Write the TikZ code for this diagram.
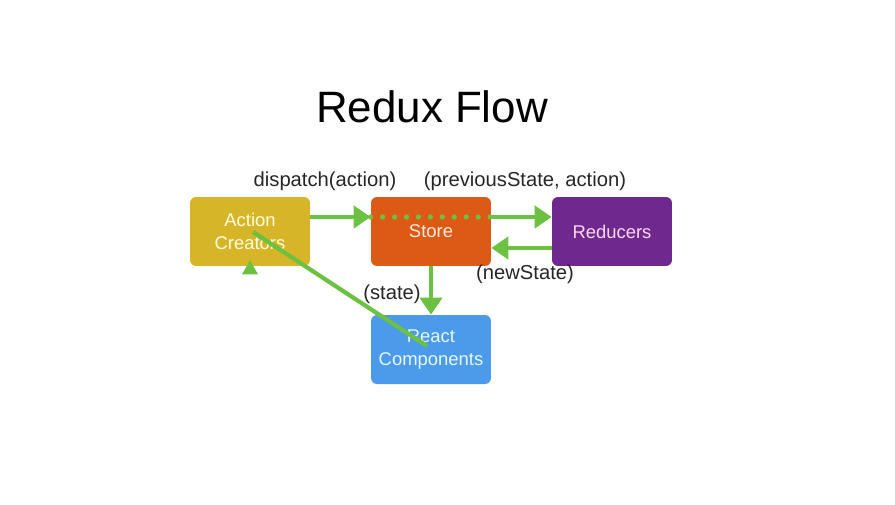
\documentclass[tikz,border=0pt]{standalone}
\usepackage{fontspec}
\setmainfont{Liberation Sans}
\usetikzlibrary{positioning, arrows.meta}

\begin{document}
\begin{tikzpicture}[x=0.02cm, y=-0.02cm,
  flowbox/.style={rounded corners=0.12cm, minimum width=2.4cm, minimum height=1.38cm,
    align=center, font=\fontsize{10.5}{13}\selectfont, inner sep=0pt},
  flowarrow/.style={draw=flowgreen, line width=2.8pt, -{Triangle[length=0.34cm, width=0.44cm]}},
  flowlabel/.style={font=\fontsize{11.5}{13.5}\selectfont, text=black!85}]

% Define colors for each block
\definecolor{actionyellow}{RGB}{214,182,40}
\definecolor{storeorange}{RGB}{220,90,22}
\definecolor{reducerpurple}{RGB}{110,40,142}
\definecolor{reactblue}{RGB}{76,154,234}
\definecolor{flowgreen}{RGB}{108,192,66}

% Canvas
\useasboundingbox (0,0) rectangle (895,504);

% Title
\node[anchor=base, font=\fontsize{25}{30}\selectfont] (title) at (432,122) {Redux Flow};

% Boxes
\node[flowbox, fill=actionyellow, text=white!88!yellow] (actions) at (250,231.5) {Action\\Creators};
\node[flowbox, fill=storeorange, text=white!85!orange] (store) at (431,231.5) {Store};
\node[flowbox, fill=reducerpurple, text=white!85!magenta] (reducers) at (612,231.5) {Reducers};
\node[flowbox, fill=reactblue, text=white!90!cyan] (react) at (431,349.5) {React\\Components};

% Labels
\node[flowlabel] (dispatch) at (325,181) {dispatch(action)};
\node[flowlabel] (prevstate) at (525,181) {(previousState, action)};
\node[flowlabel] (newstate) at (525,274) {(newState)};
\node[flowlabel] (statelbl) at (392,294) {(state)};

% Arrows
\draw[flowarrow] ([yshift=0.29cm]actions.east) -- ([yshift=0.29cm]store.west);
\draw[flowgreen, line width=3pt, dash pattern=on 0pt off 6.8pt, line cap=round] ([yshift=0.29cm]store.west) -- ([yshift=0.29cm]store.east);
\draw[flowarrow] ([yshift=0.29cm]store.east) -- ([yshift=0.29cm]reducers.west);
\draw[flowarrow] ([yshift=-0.33cm]reducers.west) -- ([yshift=-0.33cm]store.east);
\draw[flowarrow] (store.south) -- (react.north);

% Return path
\coordinate (backstart) at (427,346);
\coordinate (backend) at (253,232);
\draw[flowgreen, line width=2.4pt] (backstart) -- (backend);
\fill[flowgreen] ([yshift=0.12cm]actions.south) -- ++(-8,14) -- ++(16,0) -- cycle;

\end{tikzpicture}
\end{document}
